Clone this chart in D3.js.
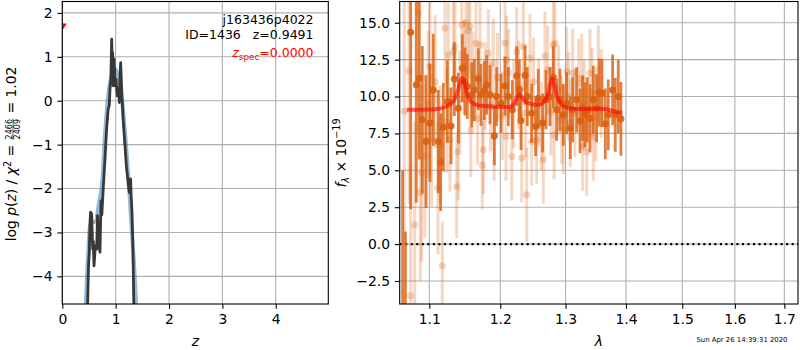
<!DOCTYPE html>
<html><head><meta charset="utf-8">
<script src="https://cdn.jsdelivr.net/npm/d3@7"></script>
<style>
body{margin:0;background:#fff}
svg{display:block;font-family:"DejaVu Sans",sans-serif}
text{white-space:pre}
</style></head><body>
<svg id="c" width="800" height="350"></svg>
<script>
// ---------- left panel: redshift PDF ----------
const zTicks = [0,1,2,3,4];
const logpTicks = [-4,-3,-2,-1,0,1,2];
const pzZ =    [0.470,0.490,0.506,0.520,0.530,0.550,0.560,0.570,0.580,0.594,0.620,0.644,0.660,0.675,0.690,0.706,0.725,0.740,0.750,0.770,0.800,0.830,0.860,0.880,0.894,0.910,0.925,0.935,0.944,0.956,0.970,0.990,1.006,1.030,1.050,1.070,1.080,1.094,1.110,1.140,1.175,1.200,1.240,1.256,1.270,1.280,1.290,1.306,1.325,1.340,1.350];
const pzLogp = [-4.90,-3.80,-3.45,-2.75,-2.54,-2.58,-3.00,-3.38,-3.20,-3.76,-3.30,-3.38,-2.62,-3.00,-3.30,-3.45,-2.28,-2.60,-2.39,-1.94,-1.33,-0.65,-0.19,-0.11,0.27,0.49,1.40,0.90,1.10,0.34,0.95,0.34,0.49,0.11,0.27,-0.04,0.49,0.87,0.34,-0.42,-1.03,-1.48,-1.94,-2.09,-1.86,-1.78,-2.16,-2.54,-3.45,-4.60,-5.00];
const smoothZ =    [0.44,0.46,0.48,0.50,0.52,0.55,0.60,0.64,0.66,0.70,0.74,0.77,0.79,0.82,0.85,0.88,0.92,0.96,0.99,1.02,1.05,1.08,1.11,1.125,1.16,1.19,1.22,1.25,1.29,1.33,1.36,1.38,1.40];
const smoothLogp = [-4.70,-4.10,-3.60,-3.15,-2.85,-2.76,-2.76,-2.72,-2.54,-2.25,-1.94,-1.45,-0.95,-0.45,0.00,0.30,0.55,0.69,0.72,0.68,0.55,0.32,0.05,-0.05,-0.50,-0.95,-1.45,-1.94,-2.70,-3.45,-4.05,-4.60,-5.00];
const zSpec = [0.0];
const zSpecMark = [1.68];

// ---------- right panel: spectrum ----------
const lamTicks = [1.1,1.2,1.3,1.4,1.5,1.6,1.7];
const fluxTicks = [-2.5,0,2.5,5,7.5,10,12.5,15];
const specLam  = [1.0646,1.0683,1.0752,1.0826,1.0866,1.0906,1.0956,1.1009,1.1054,1.1122,1.1154,1.1191,1.1246,1.1297,1.1343,1.1399,1.1455,1.1492,1.1525,1.1587,1.1625,1.1682,1.1720,1.1768,1.1802,1.1850,1.1913,1.1946,1.2011,1.2070,1.2119,1.2179,1.2244,1.2284,1.2309,1.2370,1.2405,1.2471,1.2532,1.2573,1.2640,1.2692,1.2754,1.2806,1.2859,1.2912,1.2964,1.3017,1.3076,1.3114,1.3178,1.3232,1.3275,1.3313,1.3351,1.3395,1.3450,1.3505,1.3549,1.3593,1.3649,1.3699,1.3772,1.3817,1.3868,1.3913];
const specFlux = [-10.0,-12.0,14.36,10.8,11.24,8.42,6.95,8.20,10.45,6.95,5.55,7.92,9.66,8.01,11.18,9.21,11.92,11.02,10.68,10.12,10.45,11.18,10.12,10.41,10.79,10.12,7.34,10.0,9.55,10.72,10.0,9.10,11.40,10.50,8.38,11.45,10.0,8.87,7.97,9.89,8.20,9.78,10.0,11.31,9.10,9.78,8.76,9.55,7.86,9.10,9.78,8.35,9.21,8.76,9.10,8.53,9.78,9.21,10.27,10.23,8.15,8.76,10.45,8.76,10.0,8.49];
const specErr  = [15.0,12.85,12.0,8.0,5.5,5.0,4.5,4.0,3.8,3.5,3.3,3.0,2.8,2.6,2.5,2.4,2.3,2.3,2.2,2.2,2.1,2.1,2.1,2.0,2.0,2.0,2.0,2.0,2.0,2.0,2.0,2.0,2.0,2.0,2.0,2.0,2.0,2.0,2.0,2.0,2.0,2.0,2.0,2.1,2.1,2.1,2.1,2.1,2.1,2.2,2.2,2.2,2.2,2.2,2.2,2.3,2.3,2.3,2.3,2.3,2.4,2.4,2.4,2.5,2.5,2.5];
const rawLam  = [1.0668,1.0730,1.0752,1.0805,1.0853,1.0879,1.0898,1.0940,1.0985,1.1009,1.1030,1.1080,1.1118,1.1145,1.1177,1.1214,1.1240,1.1259,1.1283,1.1329,1.1352,1.1376,1.1398,1.1420,1.1446,1.1480,1.1506,1.1539,1.1563,1.1575,1.1600,1.1648,1.1670,1.1706,1.1739,1.1753,1.1780,1.1826,1.1860,1.1898,1.1910,1.1960,1.2030,1.2070,1.2085,1.2095,1.2120,1.2170,1.2200,1.2244,1.2270,1.2320,1.2344,1.2380,1.2396,1.2446,1.2471,1.2500,1.2548,1.2580,1.2620,1.2651,1.2677,1.2720,1.2770,1.2806,1.2820,1.2832,1.2890,1.2940,1.2964,1.3018,1.3050,1.3076,1.3115,1.3150,1.3210,1.3260,1.3275,1.3300,1.3342,1.3395,1.3430,1.3450,1.3490,1.3533,1.3580];
const rawFlux = [9.0,11.74,-3.5,1.3,15.65,3.5,4.81,5.94,9.5,12.03,7.07,11.0,3.79,6.73,-1.47,14.63,8.3,12.83,7.07,13.05,13.35,3.9,6.27,9.8,14.86,12.0,14.97,14.47,14.74,7.74,11.3,13.62,8.5,13.5,5.35,6.39,10.7,12.94,9.3,12.26,7.29,11.3,8.7,13.62,7.29,12.49,11.6,5.94,9.5,13.05,10.8,5.83,13.39,8.9,3.34,12.6,6.95,11.0,7.07,9.6,8.0,5.71,12.76,11.8,9.0,13.5,7.4,13.62,10.5,8.4,7.74,11.69,10.0,8.2,11.59,8.9,10.9,11.25,6.61,9.5,6.27,11.59,10.3,7.29,8.6,11.81,10.2];
const rawErr  = [9,9,9,7,8,6,6,5.5,5,5,4.5,4.5,4.5,4,3.0,4,3.5,3.5,3.5,3.5,3.5,3.5,3.3,3.3,3.3,3.2,3.2,3.2,3.2,3.2,3.1,3.1,3.1,3.0,3.0,3.0,3.0,3.0,3.0,3.0,3.0,3.0,3.0,3.0,3.0,3.0,3.0,3.0,3.0,3.0,3.0,3.0,3.0,3.0,3.2,3.0,3.0,3.0,3.0,3.0,3.0,3.0,3.0,3.0,3.0,3.0,3.0,3.0,3.0,3.0,3.0,3.0,3.0,3.0,3.0,3.0,3.0,3.0,3.0,3.0,3.0,3.0,3.0,3.0,3.0,3.0,3.0];
const modelLam  = [1.070,1.090,1.110,1.120,1.128,1.134,1.138,1.142,1.145,1.148,1.151,1.155,1.160,1.168,1.180,1.200,1.215,1.220,1.224,1.228,1.232,1.237,1.245,1.255,1.262,1.268,1.273,1.276,1.279,1.282,1.286,1.291,1.298,1.310,1.330,1.350,1.365,1.375,1.385,1.393];
const modelFlux = [9.10,9.10,9.15,9.25,9.45,9.75,10.20,10.85,11.25,11.05,10.35,9.85,9.55,9.40,9.35,9.30,9.32,9.45,9.85,10.16,9.95,9.70,9.50,9.45,9.50,9.75,10.30,10.90,11.20,10.80,10.10,9.60,9.30,9.18,9.15,9.18,9.15,9.05,8.95,8.85];

// ---------- drawing ----------
const svg = d3.select("#c");
const FS = 13.9;
const L = {x0:62.3, x1:328.3, y0:1.5, y1:304};
const R = {x0:399.7, x1:798, y0:1.5, y1:304};
const zx = d3.scaleLinear().domain([0,4.985]).range([L.x0,L.x1]);
const ly = d3.scaleLinear().domain([-4.63,2.26]).range([L.y1,L.y0]);
const rx = d3.scaleLog().domain([1.0608,1.7287]).range([R.x0,R.x1]);
const ry = d3.scaleLinear().domain([-4.06,16.44]).range([R.y1,R.y0]);

const defs = svg.append("defs");
[["clipL",L],["clipR",R]].forEach(([id,A])=>{
  defs.append("clipPath").attr("id",id).append("rect")
    .attr("x",A.x0).attr("y",A.y0).attr("width",A.x1-A.x0).attr("height",A.y1-A.y0);
});

function grid(A, xs, xv, ys, yv){
  const g = svg.append("g").attr("stroke","#b0b0b0").attr("stroke-width",1.1);
  xv.forEach(v=>g.append("line").attr("x1",xs(v)).attr("x2",xs(v)).attr("y1",A.y0).attr("y2",A.y1));
  yv.forEach(v=>g.append("line").attr("y1",ys(v)).attr("y2",ys(v)).attr("x1",A.x0).attr("x2",A.x1));
}
grid(L, zx, zTicks, ly, logpTicks);
grid(R, rx, lamTicks, ry, fluxTicks);

// left curves
const gl = svg.append("g").attr("clip-path","url(#clipL)");
const smooth = smoothZ.map((z,i)=>[z,smoothLogp[i]]);
gl.append("path").attr("d", d3.line().x(d=>zx(d[0])).y(d=>ly(d[1])).curve(d3.curveCatmullRom)(smooth))
  .attr("fill","none").attr("stroke","#1f77b4").attr("stroke-opacity",0.5).attr("stroke-width",4);
const pz = pzZ.map((z,i)=>[z,pzLogp[i]]);
gl.append("path").attr("d", d3.line().x(d=>zx(d[0])).y(d=>ly(d[1]))(pz))
  .attr("fill","none").attr("stroke","#383838").attr("stroke-width",2.8).attr("stroke-linejoin","round");
zSpec.forEach((z,i)=>{
  const cx = zx(z), cy = ly(zSpecMark[i]);
  gl.append("path").attr("d",`M${cx-4.5},${cy-3.5}L${cx+4.5},${cy-3.5}L${cx},${cy+3.5}Z`).attr("fill","red");
});

// right panel
const gr = svg.append("g").attr("clip-path","url(#clipR)");
const ORANGE = "#d95f0e";
gr.append("line").attr("x1",R.x0).attr("x2",R.x1).attr("y1",ry(0)).attr("y2",ry(0))
  .attr("stroke","#000").attr("stroke-width",2.08).attr("stroke-dasharray","2.08,3.44");
const gRaw = gr.append("g");
rawLam.forEach((l,i)=>{
  gRaw.append("line").attr("x1",rx(l)).attr("x2",rx(l)).attr("y1",ry(rawFlux[i]-rawErr[i])).attr("y2",ry(rawFlux[i]+rawErr[i]))
    .attr("stroke",ORANGE).attr("stroke-opacity",0.25).attr("stroke-width",3);
  gRaw.append("circle").attr("cx",rx(l)).attr("cy",ry(rawFlux[i])).attr("r",3.6).attr("fill",ORANGE).attr("fill-opacity",0.25);
});
specLam.forEach((l,i)=>{
  gr.append("line").attr("x1",rx(l)).attr("x2",rx(l)).attr("y1",ry(specFlux[i]-specErr[i])).attr("y2",ry(specFlux[i]+specErr[i]))
    .attr("stroke",ORANGE).attr("stroke-opacity",0.8).attr("stroke-width",2.8);
  gr.append("circle").attr("cx",rx(l)).attr("cy",ry(specFlux[i])).attr("r",3.5).attr("fill",ORANGE).attr("fill-opacity",0.9);
});
const model = modelLam.map((l,i)=>[l,modelFlux[i]]);
gr.append("path").attr("d", d3.line().x(d=>rx(d[0])).y(d=>ry(d[1])).curve(d3.curveCatmullRom)(model))
  .attr("fill","none").attr("stroke","red").attr("stroke-opacity",0.6).attr("stroke-width",4);

// axes
function styleAxis(g){
  g.select(".domain").remove();
  g.selectAll(".tick line").attr("stroke","#000").attr("stroke-width",1.1);
  g.selectAll(".tick text").attr("font-size",FS).attr("font-family","DejaVu Sans").attr("fill","#000");
  g.attr("font-size",null).attr("font-family",null);
}
const TS = 4.86, TP = 4.86;
svg.append("g").attr("transform",`translate(0,${L.y1})`)
  .call(d3.axisBottom(zx).tickValues(zTicks).tickFormat(d3.format("d")).tickSize(TS).tickPadding(TP)).call(styleAxis);
svg.append("g").attr("transform",`translate(${L.x0},0)`)
  .call(d3.axisLeft(ly).tickValues(logpTicks).tickFormat(d3.format("d")).tickSize(TS).tickPadding(TP)).call(styleAxis);
svg.append("g").attr("transform",`translate(0,${R.y1})`)
  .call(d3.axisBottom(rx).tickValues(lamTicks).tickFormat(d3.format(".1f")).tickSize(TS).tickPadding(TP)).call(styleAxis);
svg.append("g").attr("transform",`translate(${R.x0},0)`)
  .call(d3.axisLeft(ry).tickValues(fluxTicks).tickFormat(d3.format(".1f")).tickSize(TS).tickPadding(TP)).call(styleAxis);

// frames
[L,R].forEach(A=>svg.append("rect").attr("x",A.x0).attr("y",A.y0).attr("width",A.x1-A.x0).attr("height",A.y1-A.y0)
  .attr("fill","none").attr("stroke","#000").attr("stroke-width",1.1));

// x labels
svg.append("text").attr("x",(L.x0+L.x1)/2).attr("y",346).attr("text-anchor","middle").attr("font-size",FS).attr("font-style","italic").text("z");
svg.append("text").attr("x",(R.x0+R.x1)/2).attr("y",346).attr("text-anchor","middle").attr("font-size",FS).attr("font-style","italic").text("λ");

// left y label (math)
const yl = svg.append("g").attr("transform","translate(16.3,0) rotate(-90)");
const t1 = yl.append("text").attr("font-size",FS);
t1.append("tspan").text("log ");
t1.append("tspan").attr("font-style","italic").text("p");
t1.append("tspan").text("(");
t1.append("tspan").attr("font-style","italic").text("z");
t1.append("tspan").text(") / ");
t1.append("tspan").attr("font-style","italic").text("χ");
t1.append("tspan").attr("font-size",9.7).attr("dy",-5.5).text("2");
t1.append("tspan").attr("dy",5.5).text(" = ");
const num = yl.append("text").attr("font-size",8).attr("text-anchor","middle").attr("y",-4.6).text("2466");
const den = yl.append("text").attr("font-size",8).attr("text-anchor","middle").attr("y",3.8).text("2409");
const t2 = yl.append("text").attr("font-size",FS).text(" = 1.02");
const w1 = t1.node().getComputedTextLength();
const fw = Math.max(num.node().getComputedTextLength(), den.node().getComputedTextLength()) + 2;
const w2 = t2.node().getComputedTextLength();
const W = w1 + fw + w2;
const start = -(154 + W/2);
t1.attr("x",start);
num.attr("x",start+w1+fw/2);
den.attr("x",start+w1+fw/2);
yl.append("line").attr("x1",start+w1+0.5).attr("x2",start+w1+fw-0.5).attr("y1",-3.3).attr("y2",-3.3).attr("stroke","#000").attr("stroke-width",0.6);
t2.attr("x",start+w1+fw);

// right y label
const yr = svg.append("text").attr("transform","translate(345.5,153) rotate(-90)").attr("text-anchor","middle").attr("font-size",FS);
yr.append("tspan").attr("font-style","italic").text("f");
yr.append("tspan").attr("font-style","italic").attr("font-size",9.7).attr("dy",3).text("λ");
yr.append("tspan").attr("dy",-3).text(" × 10");
yr.append("tspan").attr("font-size",9.7).attr("dy",-5.5).text("−19");

// annotations
const AF = 12.5;
svg.append("text").attr("x",313.5).attr("y",24).attr("text-anchor","end").attr("font-size",AF).text("j163436p4022");
svg.append("text").attr("x",313.5).attr("y",38.5).attr("text-anchor","end").attr("font-size",AF).text("ID=1436   z=0.9491");
const zs = svg.append("text").attr("x",313.5).attr("y",57).attr("text-anchor","end").attr("font-size",AF).attr("fill","red");
zs.append("tspan").attr("font-style","italic").text("z");
zs.append("tspan").attr("font-size",8.8).attr("dy",2.5).text("spec");
zs.append("tspan").attr("dy",-2.5).text("=0.0000");

svg.append("text").attr("x",787.5).attr("y",342.3).attr("text-anchor","end").attr("font-size",6.9).text("Sun Apr 26 14:39:31 2020");
</script>
</body></html>
